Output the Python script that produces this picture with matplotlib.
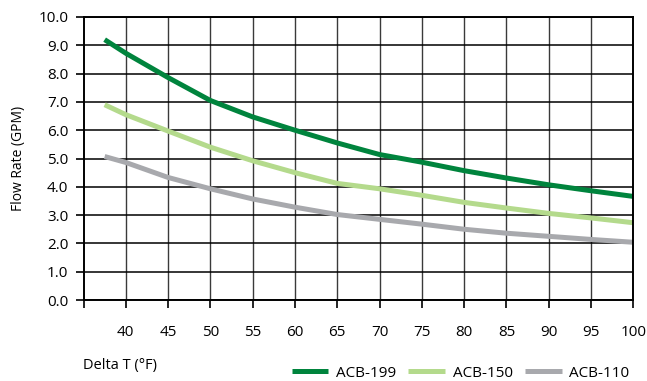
import numpy as np
import matplotlib
matplotlib.use("Agg")
import matplotlib.pyplot as plt

plt.rcParams['font.family'] = ['Open Sans', 'DejaVu Sans']

delta_t = [37.5, 40, 45, 50, 55, 60, 65, 70, 75, 80, 85, 90, 95, 100]
acb_199 = [9.2, 8.72, 7.86, 7.05, 6.47, 6.0, 5.55, 5.14, 4.87, 4.57, 4.31, 4.07, 3.86, 3.66]
acb_150 = [6.9, 6.55, 5.97, 5.4, 4.92, 4.5, 4.12, 3.93, 3.7, 3.45, 3.25, 3.06, 2.9, 2.73]
acb_110 = [5.07, 4.86, 4.33, 3.93, 3.57, 3.28, 3.02, 2.85, 2.68, 2.5, 2.36, 2.25, 2.14, 2.04]

series = [("ACB-199", acb_199, "#00843d"),
          ("ACB-150", acb_150, "#b4da8c"),
          ("ACB-110", acb_110, "#a8a9ad")]

fig = plt.figure(figsize=(6.47, 3.81), dpi=100)
ax = fig.add_axes([83.5/647, 1 - 300/381, (633.3 - 83.5)/647, (300 - 17)/381])

for name, vals, col in series:
    ax.plot(delta_t, vals, color=col, lw=3.6, label=name, solid_capstyle='butt')

ax.set_xlim(35, 100)
ax.set_ylim(0, 10)
ax.set_xticks(np.arange(40, 101, 5))
ax.set_yticks(np.arange(0, 10.1, 1))
ax.set_yticklabels([f"{v:.1f}" for v in np.arange(0, 10.1, 1)])
ax.set_xticks([35], minor=True)

ax.grid(axis='y', color='black', lw=1.1)
ax.grid(axis='x', color='#3a3a3a', lw=1.0)
ax.set_axisbelow(True)
for s in ax.spines.values():
    s.set_color('black')
    s.set_linewidth(1.4)

ax.tick_params(axis='x', which='both', direction='out', length=6, width=1.2, pad=12, labelsize=11)
ax.tick_params(axis='y', direction='out', length=6, width=1.2, pad=5, labelsize=11)

ax.set_ylabel("Flow Rate (GPM)", fontsize=10, labelpad=9)
fig.text(83/647, 1 - 366/381, "Delta T (°F)", fontsize=10.5, ha='left', va='center')

fig.legend(loc='lower right', bbox_to_anchor=(0.994, -0.035), ncol=3, frameon=False,
           fontsize=11, handlelength=2.4, handletextpad=0.5, columnspacing=0.8)

fig.savefig("out.png", dpi=100)
